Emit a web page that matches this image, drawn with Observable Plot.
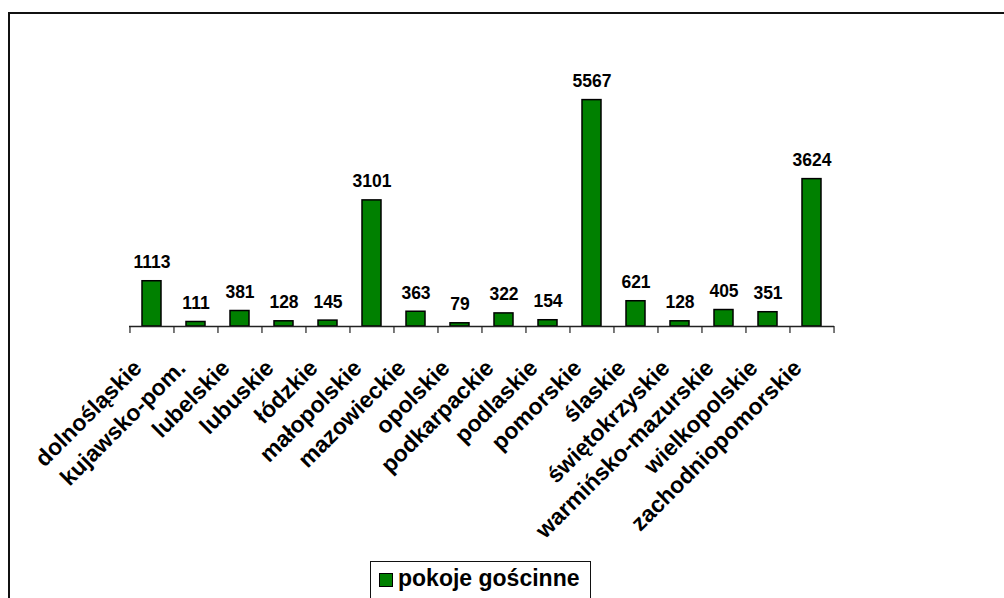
<!DOCTYPE html>
<html>
<head>
<meta charset="utf-8">
<script src="https://cdn.jsdelivr.net/npm/d3@7"></script>
<script src="https://cdn.jsdelivr.net/npm/@observablehq/plot@0.6"></script>
<style>
  html, body { margin: 0; padding: 0; background: #fff; }
  #wrap { position: relative; width: 1004px; height: 598px; overflow: hidden; font-family: "Liberation Sans", Arial, sans-serif; }
  #frame { position: absolute; left: 8px; top: 12px; width: 1100px; height: 700px; border: 2px solid #111; box-sizing: border-box; }
  #chart { position: absolute; left: 0; top: 0; }
  #legend { position: absolute; left: 370px; top: 561px; width: 221px; height: 40px; border: 1.5px solid #111; box-sizing: border-box; background: #fff; }
  #legend .sw { position: absolute; left: 8px; top: 11px; width: 12px; height: 12px; background: #008000; border: 1.5px solid #000; }
  #legend .lab { position: absolute; left: 27px; top: 3px; font-size: 23px; font-weight: bold; color: #000; white-space: nowrap; line-height: 27px; }
</style>
</head>
<body>
<div id="wrap">
  <div id="frame"></div>
  <div id="chart"></div>
  <div id="legend"><div class="sw"></div><div class="lab"></div></div>
</div>
<script>
const categories = ["dolnośląskie", "kujawsko-pom.", "lubelskie", "lubuskie", "łódzkie", "małopolskie", "mazowieckie", "opolskie", "podkarpackie", "podlaskie", "pomorskie", "ślaskie", "świętokrzyskie", "warmińsko-mazurskie", "wielkopolskie", "zachodniopomorskie"];
const values = [1113, 111, 381, 128, 145, 3101, 363, 79, 322, 154, 5567, 621, 128, 405, 351, 3624];
const seriesName = "pokoje gościnne";

const data = categories.map((name, i) => ({name, value: values[i]}));

const W = 1004, H = 598;
const mL = 129, mR = 170, mT = 82, mB = 272;
const step = (W - mL - mR) / categories.length;
const font = "'Liberation Sans', Arial, sans-serif";

const chart = Plot.plot({
  width: W,
  height: H,
  marginLeft: mL,
  marginRight: mR,
  marginTop: mT,
  marginBottom: mB,
  style: {fontFamily: font, background: "transparent", overflow: "visible"},
  x: {domain: categories, paddingInner: 0.56, paddingOuter: 0.28, axis: null},
  y: {domain: [0, 6000], axis: null},
  marks: [
    Plot.barY(data, {x: "name", y: "value", fill: "#008000", stroke: "#000", strokeWidth: 1.5}),
    Plot.ruleY([0], {stroke: "#222", strokeWidth: 1.5}),
    Plot.axisX({tickSize: 7, tickFormat: () => "", dx: -step / 2, stroke: "#222", strokeWidth: 1.2}),
    Plot.axisX({ticks: [categories[categories.length - 1]], tickSize: 7, tickFormat: () => "", dx: step / 2, stroke: "#222", strokeWidth: 1.2}),
    Plot.text(data, {x: "name", y: "value", text: d => String(d.value), dy: -13, lineAnchor: "bottom", fontSize: 17.5, fontWeight: "bold", fill: "#000"}),
    Plot.text(data, {x: "name", y: () => 0, text: "name", rotate: -45, textAnchor: "end", lineAnchor: "bottom", dx: -9, dy: 43, fontSize: 23, fontWeight: "bold", fill: "#000"})
  ]
});
document.getElementById("chart").appendChild(chart);
document.querySelector("#legend .lab").textContent = seriesName;
</script>
</body>
</html>
